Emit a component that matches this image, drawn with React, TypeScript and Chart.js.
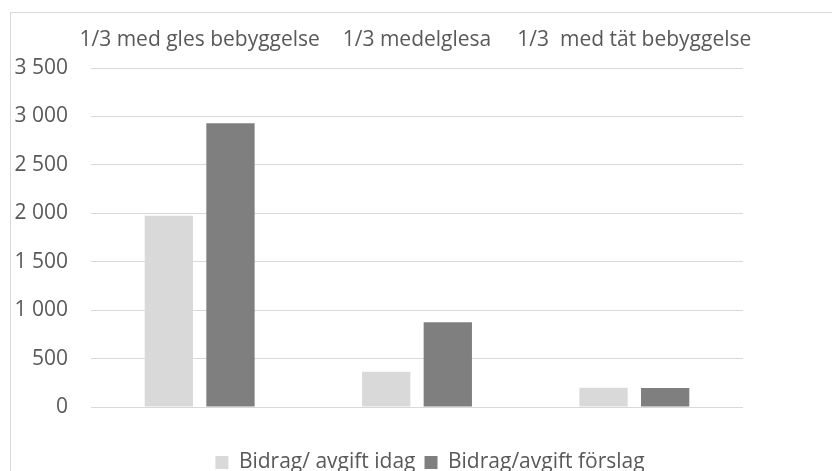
import React, { useEffect, useRef } from "react";
import { Chart, registerables } from "chart.js";

Chart.register(...registerables);

const categories = ["1/3 med gles bebyggelse", "1/3 medelglesa", "1/3  med tät bebyggelse"];
const seriesNames = ["Bidrag/ avgift idag", "Bidrag/avgift förslag"];
const idagValues = [1975, 365, 200];
const forslagValues = [2930, 875, 195];
const yMin = 0;
const yMax = 3500;
const yStep = 500;

const FONT = "'Open Sans', sans-serif";
const TEXT = "#595959";

function fmt(v: number): string {
  return String(v).replace(/\B(?=(\d{3})+(?!\d))/g, " ");
}

export default function App() {
  const ref = useRef<HTMLCanvasElement | null>(null);
  useEffect(() => {
    if (!ref.current) return;
    const chart = new Chart(ref.current, {
      type: "bar",
      data: {
        labels: categories,
        datasets: [
          {
            label: seriesNames[0],
            data: idagValues,
            backgroundColor: "#d9d9d9",
            borderWidth: 0,
            categoryPercentage: 0.567,
            barPercentage: 0.784,
          },
          {
            label: seriesNames[1],
            data: forslagValues,
            backgroundColor: "#7f7f7f",
            borderWidth: 0,
            categoryPercentage: 0.567,
            barPercentage: 0.784,
          },
        ],
      },
      options: {
        responsive: false,
        animation: false,
        devicePixelRatio: 1,
        layout: { padding: { left: 4, top: 0, right: 0, bottom: 0 } },
        plugins: {
          tooltip: { enabled: false },
          legend: {
            position: "bottom",
            weight: 3000,
            labels: {
              boxWidth: 13,
              boxHeight: 13,
              padding: 9,
              color: TEXT,
              font: { family: FONT, size: 21 },
            },
          } as any,
        },
        scales: {
          x: {
            position: "top",
            grid: { display: false },
            border: { display: false },
            ticks: { color: TEXT, font: { family: FONT, size: 21 }, padding: 7, maxRotation: 0, autoSkip: false },
            afterFit: (s: any) => { s.height = 55; },
          },
          x2: {
            type: "category",
            position: "bottom",
            labels: categories,
            grid: { display: false },
            border: { display: false },
            ticks: { display: false },
            afterFit: (s: any) => { s.height = 36; },
          },
          y: {
            position: "left",
            min: yMin,
            max: yMax,
            grid: { color: "#d9d9d9", lineWidth: 1, drawTicks: false },
            border: { display: false },
            ticks: {
              stepSize: yStep,
              color: TEXT,
              padding: 23,
              font: { family: FONT, size: 21 },
              callback: (v: any) => fmt(Number(v)),
            },
            afterFit: (s: any) => { s.width = 76; },
          },
          y2: {
            type: "linear",
            position: "right",
            grid: { display: false },
            border: { display: false },
            ticks: { display: false },
            afterFit: (s: any) => { s.width = 102; },
          },
        } as any,
      },
    });
    return () => chart.destroy();
  }, []);

  return (
    <div style={{ position: "fixed", left: 0, top: 0, width: 832, height: 471, overflow: "hidden", background: "#fff" }}>
      <div
        style={{
          position: "absolute",
          left: 10,
          top: 12,
          width: 840,
          height: 480,
          border: "1px solid #d9d9d9",
          background: "#fff",
        }}
      >
        <canvas ref={ref} width={834} height={470} style={{ display: "block", width: 834, height: 470 }} />
      </div>
    </div>
  );
}
